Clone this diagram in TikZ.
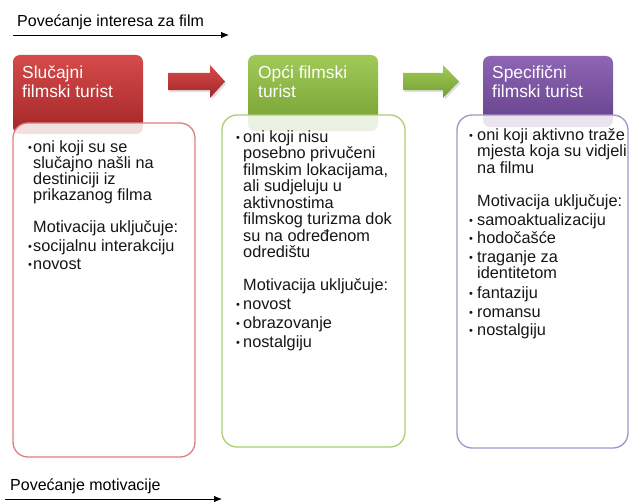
\documentclass[tikz,border=0pt]{standalone}
\usepackage{fontspec}
\setmainfont{Liberation Sans}
\usetikzlibrary{arrows.meta}
\definecolor{redtop}{RGB}{214,74,74}
\definecolor{redbot}{RGB}{163,38,40}
\definecolor{redline}{RGB}{222,128,128}
\definecolor{grntop}{RGB}{160,202,88}
\definecolor{grnbot}{RGB}{116,158,48}
\definecolor{grnline}{RGB}{172,206,116}
\definecolor{purtop}{RGB}{142,102,180}
\definecolor{purbot}{RGB}{100,64,138}
\definecolor{purline}{RGB}{166,146,202}
\definecolor{txt}{RGB}{22,22,22}
\newlength\bulw
\newcommand\bodyfont{\fontsize{16.3}{16.5}\selectfont}
\newcommand\headfont{\fontsize{17.4}{19}\selectfont}
\newcommand\bl{\makebox[\bulw][l]{\fontsize{11}{11}\selectfont\raisebox{1pt}{•}}}
\newcommand\ind{\kern\bulw}
\newcommand\bline[1]{\hbox{#1}}
\tikzset{
  hdr/.style={rounded corners=7pt},
  bodybox/.style={line width=1.3pt, fill=white, fill opacity=0.86, rounded corners=15pt},
  btxt/.style={anchor=base west, inner sep=0pt, text=txt},
  htxt/.style={anchor=base west, inner sep=0pt, text=white},
  ttl/.style={anchor=base west, inner sep=0pt, font=\fontsize{16}{16}\selectfont},
  axis/.style={line width=0.8pt, -{Latex[length=8pt,width=6.5pt]}}
}
\begin{document}
\begin{tikzpicture}[x=1pt,y=-1pt]
\useasboundingbox (0,0) rectangle (629,503);
\fill[white] (0,0) rectangle (629,503);

% top title and arrow
\node[ttl] (t1) at (17,27) {Povećanje interesa za film};
\coordinate (a1s) at (13,35);
\coordinate (a1e) at (229,35);
\draw[axis] (a1s) -- (a1e);

% headers
\shade[hdr, top color=redtop, bottom color=redbot] (13,55) rectangle (143,134);
\shade[hdr, top color=grntop, bottom color=grnbot] (248,55) rectangle (378,131);
\shade[hdr, top color=purtop, bottom color=purbot] (483,56) rectangle (613,127);

% bodies
\draw[bodybox, draw=redline] (13,123) rectangle (195,457);
\draw[bodybox, draw=grnline] (222,115) rectangle (405,447);
\draw[bodybox, draw=purline] (457,115) rectangle (628,448);

% header texts
\node[htxt] (h1) at (22,78) {\headfont\vtop{\bline{Slučajni}\bline{filmski turist}}};
\node[htxt] (h2) at (258,78) {\headfont\vtop{\bline{Opći filmski}\bline{turist}}};
\node[htxt] (h3) at (492,78) {\headfont\vtop{\bline{Specifični}\bline{filmski turist}}};

% block arrows
\begin{scope}[shift={(168,0)}]
  \fill[black, opacity=0.12] (1.5,75) -- (43.5,75) -- (43.5,67) -- (58.5,83.5) -- (43.5,100) -- (43.5,92) -- (1.5,92) -- cycle;
  \shade[top color=redtop, bottom color=redbot] (0,73) -- (42,73) -- (42,65) -- (57,81.5) -- (42,98) -- (42,90) -- (0,90) -- cycle;
\end{scope}
\begin{scope}[shift={(403,0)}]
  \fill[black, opacity=0.12] (1.5,75) -- (41.5,75) -- (41.5,67) -- (57.5,83.5) -- (41.5,100) -- (41.5,92) -- (1.5,92) -- cycle;
  \shade[top color=grntop, bottom color=grnbot] (0,73) -- (40,73) -- (40,65) -- (56,81.5) -- (40,98) -- (40,90) -- (0,90) -- cycle;
\end{scope}

% body texts
\node[btxt] (b1) at (28,152) {\setlength\bulw{5pt}\vtop{\fontsize{16.3}{16}\selectfont\lineskiplimit=-20pt
  \bline{\bl oni koji su se}
  \bline{\ind slučajno našli na}
  \bline{\ind destiniciji iz}
  \bline{\ind prikazanog filma}
  \vskip16.5pt
  \bline{\ind Motivacija uključuje:}
  \vskip2.5pt
  \bline{\bl socijalnu interakciju}
  \vskip2.5pt
  \bline{\bl novost}}};

\node[btxt] (b2) at (236,142) {\setlength\bulw{7pt}\vtop{\bodyfont\lineskiplimit=-20pt
  \bline{\bl oni koji nisu}
  \bline{\ind posebno privučeni}
  \bline{\ind filmskim lokacijama,}
  \bline{\ind ali sudjeluju u}
  \bline{\ind aktivnostima}
  \bline{\ind filmskog turizma dok}
  \bline{\ind su na određenom}
  \bline{\ind odredištu}
  \vskip16pt
  \bline{\ind Motivacija uključuje:}
  \vskip2.5pt
  \bline{\bl novost}
  \vskip2.5pt
  \bline{\bl obrazovanje}
  \vskip2.5pt
  \bline{\bl nostalgiju}}};

\node[btxt] (b3) at (469,140) {\setlength\bulw{8pt}\vtop{\bodyfont\lineskiplimit=-20pt
  \bline{\bl oni koji aktivno traže}
  \bline{\ind mjesta koja su vidjeli}
  \bline{\ind na filmu}
  \vskip17pt
  \bline{\ind Motivacija uključuje:}
  \vskip2pt
  \bline{\bl samoaktualizaciju}
  \vskip2pt
  \bline{\bl hodočašće}
  \vskip2pt
  \bline{\bl traganje za}
  \bline{\ind identitetom}
  \vskip3pt
  \bline{\bl fantaziju}
  \vskip2.5pt
  \bline{\bl romansu}
  \vskip2pt
  \bline{\bl nostalgiju}}};

% bottom title and arrow
\node[ttl] (t2) at (10,490) {Povećanje motivacije};
\coordinate (a2s) at (5,499);
\coordinate (a2e) at (222,499);
\draw[axis] (a2s) -- (a2e);
\end{tikzpicture}
\end{document}
